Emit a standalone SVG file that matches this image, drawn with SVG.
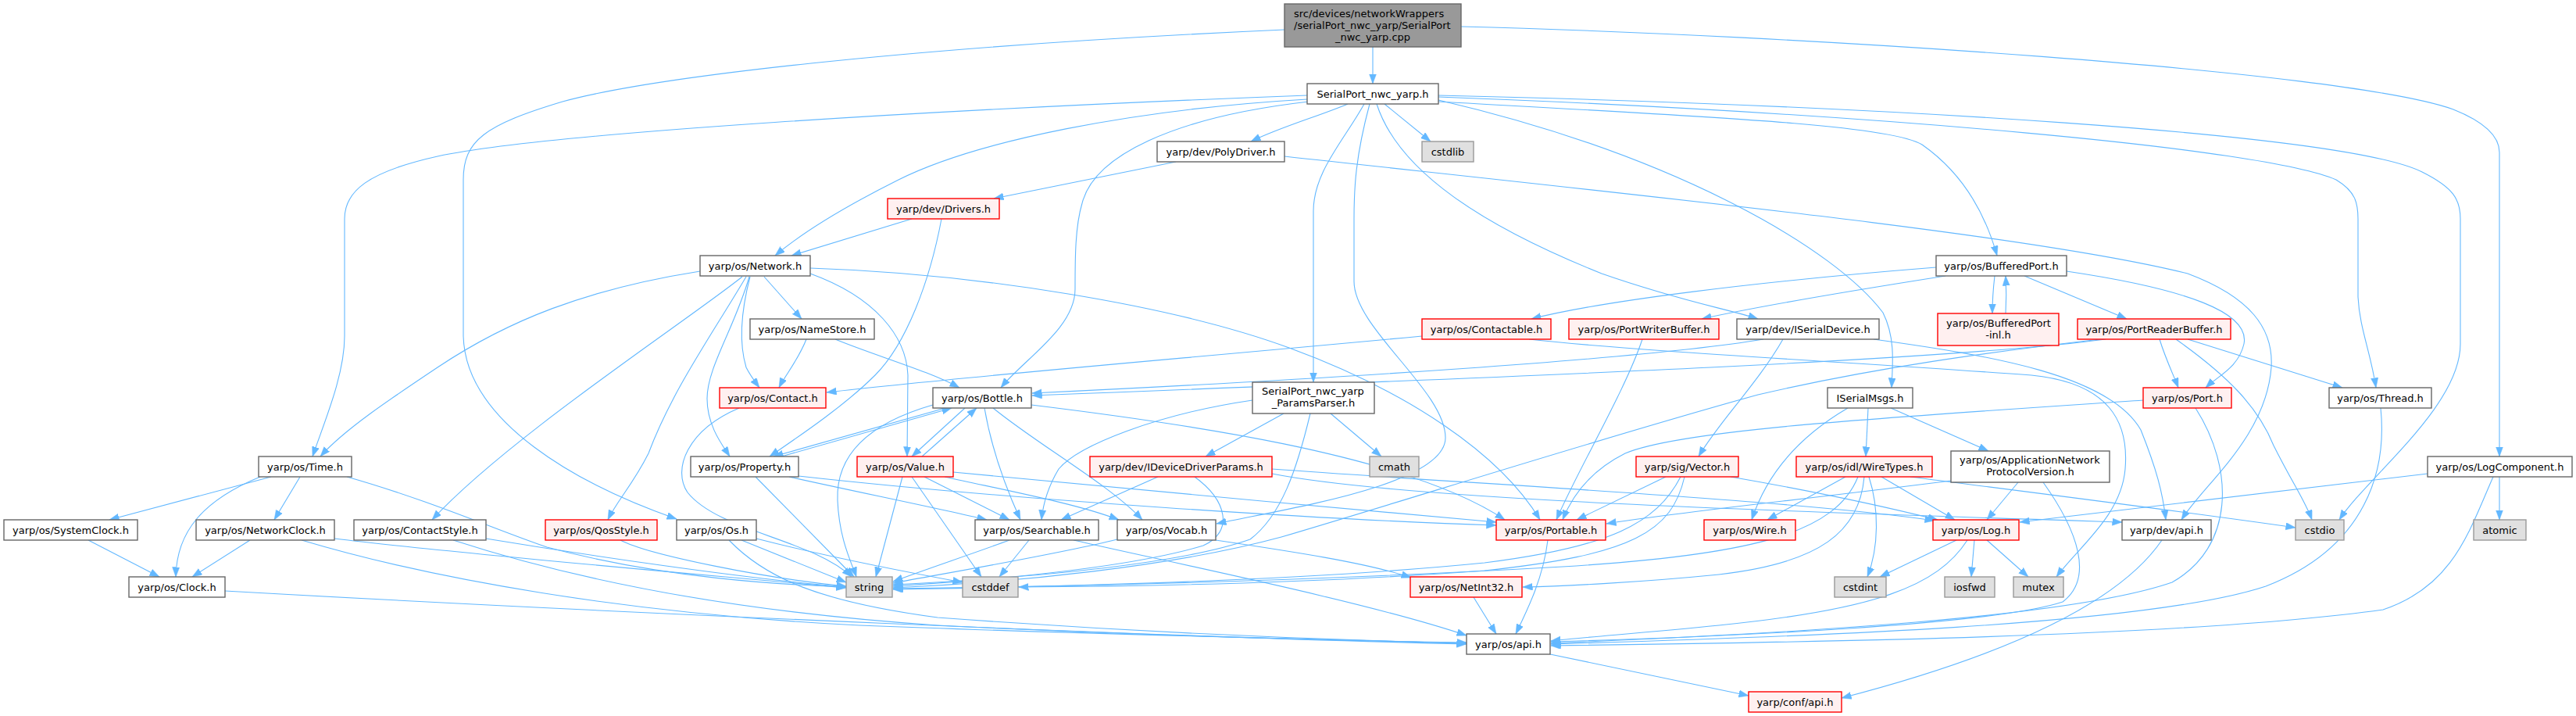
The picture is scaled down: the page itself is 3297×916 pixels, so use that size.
<svg xmlns="http://www.w3.org/2000/svg" width="3297" height="916" viewBox="0 0 3297 916">
<defs>
<marker id="arr" markerUnits="userSpaceOnUse" markerWidth="13" markerHeight="10" refX="12.5" refY="4.6" orient="auto">
<path d="M0,0 L12.5,4.6 L0,9.2 z" fill="#63B8FF" stroke="#63B8FF" stroke-width="0.5"/>
</marker>
<style>
.e{fill:none;stroke:#63B8FF;stroke-width:1.1;marker-end:url(#arr)}
rect{stroke-width:1.4}
.doc{fill:#FFFFFF;stroke:#666666}
.red{fill:#FFF0F0;stroke:#FF0000}
.ext{fill:#E0E0E0;stroke:#999999}
.root{fill:#999999;stroke:#666666}
text{font-family:"DejaVu Sans","Liberation Sans",sans-serif;font-size:13px;fill:#000000}
.m{text-anchor:middle}
.s{text-anchor:start}
</style>
</defs>
<rect width="3297" height="916" fill="#FFFFFF"/>
<g id="edges">
<path class="e" d="M1757,60 L1757,107"/>
<path class="e" d="M1644,38 C1150,60 830,100 720,130 C620,160 593,180 593,230 L593,430 C596,540 740,620 866,664"/>
<path class="e" d="M1870,34 C2300,45 3000,90 3140,140 C3190,160 3199,180 3199,195 L3199,584"/>
<path class="e" d="M1673,122 C1200,140 700,170 560,200 C470,220 441,245 441,280 L441,430 C441,480 415,540 400,584"/>
<path class="e" d="M1673,127 C1450,140 1250,180 1150,230 C1080,265 1030,295 992,327"/>
<path class="e" d="M1675,130 C1500,150 1400,200 1385,260 C1376,290 1376,330 1376,370 C1376,420 1310,460 1281,496"/>
<path class="e" d="M1725,133 C1690,148 1640,162 1601,181"/>
<path class="e" d="M1746,133 C1720,180 1681,220 1681,270 L1681,489"/>
<path class="e" d="M1753,133 C1735,200 1733,240 1733,280 L1733,360 C1733,420 1850,500 1850,560 C1850,620 1650,650 1557,670"/>
<path class="e" d="M1762,133 C1790,220 1900,290 2050,350 C2150,385 2210,395 2250,408"/>
<path class="e" d="M1772,133 L1831,181"/>
<path class="e" d="M1841,128 C2150,200 2350,320 2410,400 C2425,430 2423,460 2421,496"/>
<path class="e" d="M1841,122 C2400,135 3000,170 3100,220 C3140,240 3149,255 3149,280 L3149,440 C3149,520 3030,610 2994,665"/>
<path class="e" d="M1841,124 C2400,145 2900,190 2990,230 C3015,245 3018,260 3018,280 L3018,380 C3020,420 3034,450 3041,496"/>
<path class="e" d="M1841,130 C2200,150 2420,160 2460,185 C2510,220 2540,270 2556,327"/>
<path class="e" d="M1505,207 L1272,254"/>
<path class="e" d="M1644,200 C2100,250 2600,300 2800,350 C2880,380 2910,420 2907,470 C2900,560 2820,620 2792,665"/>
<path class="e" d="M1167,280 L1013,327"/>
<path class="e" d="M1205,280 C1190,360 1160,440 1120,480 C1080,520 1020,560 985,584"/>
<path class="e" d="M896,347 C750,370 650,410 560,470 C500,510 440,550 410,584"/>
<path class="e" d="M950,354 C880,410 650,560 553,665"/>
<path class="e" d="M955,354 C910,430 860,500 830,580 C810,620 790,640 778,665"/>
<path class="e" d="M959,354 C940,420 905,470 905,510 C905,545 925,570 934,584"/>
<path class="e" d="M960,354 C948,400 946,440 955,470 C960,480 966,488 972,496"/>
<path class="e" d="M978,354 L1026,408"/>
<path class="e" d="M1037,350 C1120,380 1160,430 1162,480 L1161,584"/>
<path class="e" d="M1037,343 C1250,350 1500,390 1650,445 C1800,500 1920,580 1971,665"/>
<path class="e" d="M2478,342 C2250,360 2050,385 1960,408"/>
<path class="e" d="M2490,353 C2350,375 2250,392 2178,408"/>
<path class="e" d="M2553,353 C2551,370 2550,385 2550,401"/>
<path class="e" d="M2567,401 C2568,385 2568,370 2567,353"/>
<path class="e" d="M2591,353 L2722,408"/>
<path class="e" d="M2645,347 C2800,370 2880,400 2872,440 C2865,470 2840,480 2823,496"/>
<path class="e" d="M1032,434 C1022,460 1005,480 997,496"/>
<path class="e" d="M1069,434 C1120,455 1190,475 1228,496"/>
<path class="e" d="M1820,430 C1500,460 1250,480 1058,502"/>
<path class="e" d="M1957,434 C2100,450 2400,465 2600,480 C2700,490 2725,540 2720,600 C2715,660 2660,700 2632,738"/>
<path class="e" d="M2102,434 C2080,500 2020,600 1992,665"/>
<path class="e" d="M2257,434 C2100,460 1700,485 1321,503"/>
<path class="e" d="M2282,434 C2250,490 2200,540 2174,584"/>
<path class="e" d="M2398,434 C2550,455 2700,480 2740,550 C2760,600 2768,630 2772,665"/>
<path class="e" d="M2764,434 C2772,460 2782,480 2788,496"/>
<path class="e" d="M2785,434 C2850,480 2890,520 2910,570 C2935,620 2950,640 2959,665"/>
<path class="e" d="M2800,434 L2998,496"/>
<path class="e" d="M2695,434 C2500,460 2000,480 1321,506"/>
<path class="e" d="M2688,434 C2550,450 2400,470 2250,505 C2050,560 1800,640 1640,687 C1500,725 1300,745 1143,752"/>
<path class="e" d="M946,522 C880,550 860,600 880,630 C920,680 1040,690 1090,738"/>
<path class="e" d="M1210,522 L990,584"/>
<path class="e" d="M1000,584 L1218,522"/>
<path class="e" d="M1235,522 L1167,584"/>
<path class="e" d="M1180,584 L1250,522"/>
<path class="e" d="M1260,522 C1270,580 1290,630 1306,665"/>
<path class="e" d="M1271,522 C1330,570 1420,620 1462,665"/>
<path class="e" d="M1320,518 C1500,540 1800,580 1926,665"/>
<path class="e" d="M1194,518 C1100,545 1070,590 1072,640 C1074,690 1090,720 1096,738"/>
<path class="e" d="M1603,512 C1480,530 1380,570 1355,600 C1340,625 1335,645 1333,665"/>
<path class="e" d="M1643,529 L1543,584"/>
<path class="e" d="M1703,529 L1768,584"/>
<path class="e" d="M1677,529 C1660,600 1640,660 1600,690 C1500,725 1300,740 1143,748"/>
<path class="e" d="M1482,610 L1358,665"/>
<path class="e" d="M1529,610 C1570,640 1580,680 1540,698 C1450,725 1300,740 1143,750"/>
<path class="e" d="M1628,600 C1900,620 2300,640 2476,666"/>
<path class="e" d="M1628,606 C1800,640 2300,655 2716,668"/>
<path class="e" d="M2132,610 L2018,665"/>
<path class="e" d="M2151,610 C2120,670 2060,700 1900,720 C1700,740 1400,750 1143,754"/>
<path class="e" d="M2156,610 C2140,680 2090,710 1900,730 C1700,745 1500,750 1304,751"/>
<path class="e" d="M2215,610 C2330,630 2420,650 2480,665"/>
<path class="e" d="M2362,610 L2262,665"/>
<path class="e" d="M2378,610 C2350,680 2250,710 2000,725 C1700,742 1400,750 1143,753"/>
<path class="e" d="M2386,610 C2380,680 2330,720 2200,735 C2100,745 2000,750 1949,751"/>
<path class="e" d="M2392,610 C2405,650 2405,700 2390,738"/>
<path class="e" d="M2408,610 L2502,665"/>
<path class="e" d="M2445,610 C2600,630 2800,655 2938,675"/>
<path class="e" d="M2365,522 C2300,560 2260,610 2242,665"/>
<path class="e" d="M2391,522 L2388,584"/>
<path class="e" d="M2420,522 L2545,577"/>
<path class="e" d="M2743,512 C2400,535 2150,550 2080,580 C2030,605 2010,640 2000,665"/>
<path class="e" d="M2810,522 C2860,600 2860,700 2780,745 C2650,790 2300,810 1985,823"/>
<path class="e" d="M3047,522 C3055,600 3030,700 2900,750 C2750,800 2300,815 1985,824"/>
<path class="e" d="M2583,617 L2543,665"/>
<path class="e" d="M2497,615 C2300,640 2150,655 2056,670"/>
<path class="e" d="M2615,617 C2660,680 2680,740 2640,770 C2550,800 2200,815 1985,821"/>
<path class="e" d="M3107,606 L2585,668"/>
<path class="e" d="M3199,610 L3199,665"/>
<path class="e" d="M3191,610 C3160,680 3140,750 3050,780 C2800,815 2300,822 1985,826"/>
<path class="e" d="M347,610 L140,665"/>
<path class="e" d="M333,610 C260,640 226,680 225,738"/>
<path class="e" d="M384,610 L351,665"/>
<path class="e" d="M444,610 C550,640 640,680 700,700 C850,740 1000,748 1083,751"/>
<path class="e" d="M113,691 L204,738"/>
<path class="e" d="M320,691 L246,738"/>
<path class="e" d="M428,689 C600,710 900,735 1083,752"/>
<path class="e" d="M386,691 C550,740 800,785 1100,800 C1400,812 1700,818 1877,823"/>
<path class="e" d="M622,689 C750,710 950,740 1083,751"/>
<path class="e" d="M580,691 C700,730 900,780 1200,800 C1500,815 1750,820 1877,822"/>
<path class="e" d="M794,691 C830,710 980,740 1083,750"/>
<path class="e" d="M288,756 C800,785 1500,815 1877,824"/>
<path class="e" d="M949,691 L1083,745"/>
<path class="e" d="M968,689 C1050,710 1150,730 1232,745"/>
<path class="e" d="M933,691 C980,740 1050,770 1200,790 C1500,812 1750,820 1877,823"/>
<path class="e" d="M967,610 L1093,738"/>
<path class="e" d="M1010,610 C1100,630 1200,650 1263,665"/>
<path class="e" d="M1022,609 C1300,640 1700,665 1915,672"/>
<path class="e" d="M1155,610 L1121,738"/>
<path class="e" d="M1167,610 L1256,738"/>
<path class="e" d="M1183,610 L1292,665"/>
<path class="e" d="M1209,610 C1300,630 1380,645 1432,665"/>
<path class="e" d="M1220,604 C1400,620 1700,650 1915,668"/>
<path class="e" d="M1292,691 C1240,710 1180,730 1143,744"/>
<path class="e" d="M1317,691 L1279,738"/>
<path class="e" d="M1374,691 C1500,720 1750,770 1877,813"/>
<path class="e" d="M1430,690 C1350,710 1200,735 1143,746"/>
<path class="e" d="M1556,691 C1650,705 1750,720 1806,739"/>
<path class="e" d="M1981,691 C1975,740 1955,780 1940,811"/>
<path class="e" d="M1886,764 L1915,811"/>
<path class="e" d="M2504,691 L2406,738"/>
<path class="e" d="M2527,691 L2523,738"/>
<path class="e" d="M2543,691 L2596,738"/>
<path class="e" d="M2518,691 C2480,750 2400,780 2200,800 C2100,810 2030,815 1985,820"/>
<path class="e" d="M2767,691 C2720,760 2600,830 2357,893"/>
<path class="e" d="M1984,837 L2238,890"/>
</g>
<g id="node-root"><rect class="root" x="1644" y="5" width="226" height="55"/><text class="s" x="1656" y="22">src/devices/networkWrappers</text><text class="s" x="1656" y="37">/serialPort_nwc_yarp/SerialPort</text><text class="m" x="1757" y="52">_nwc_yarp.cpp</text></g>
<g id="node-spnwc"><rect class="doc" x="1673" y="107" width="168" height="26"/><text class="m" x="1757" y="125">SerialPort_nwc_yarp.h</text></g>
<g id="node-cstdlib"><rect class="ext" x="1820" y="181" width="66" height="26"/><text class="m" x="1853" y="199">cstdlib</text></g>
<g id="node-polydriver"><rect class="doc" x="1481" y="181" width="163" height="26"/><text class="m" x="1562.5" y="199">yarp/dev/PolyDriver.h</text></g>
<g id="node-drivers"><rect class="red" x="1136" y="254" width="143" height="26"/><text class="m" x="1207.5" y="272">yarp/dev/Drivers.h</text></g>
<g id="node-network"><rect class="doc" x="896" y="327" width="141" height="26"/><text class="m" x="966.5" y="345">yarp/os/Network.h</text></g>
<g id="node-bufferedport"><rect class="doc" x="2478" y="327" width="167" height="26"/><text class="m" x="2561.5" y="345">yarp/os/BufferedPort.h</text></g>
<g id="node-namestore"><rect class="doc" x="960" y="408" width="159" height="26"/><text class="m" x="1039.5" y="426">yarp/os/NameStore.h</text></g>
<g id="node-contactable"><rect class="red" x="1820" y="408" width="165" height="26"/><text class="m" x="1902.5" y="426">yarp/os/Contactable.h</text></g>
<g id="node-portwriterbuffer"><rect class="red" x="2008" y="408" width="192" height="26"/><text class="m" x="2104" y="426">yarp/os/PortWriterBuffer.h</text></g>
<g id="node-iserialdevice"><rect class="doc" x="2223" y="408" width="182" height="26"/><text class="m" x="2314" y="426">yarp/dev/ISerialDevice.h</text></g>
<g id="node-portreaderbuffer"><rect class="red" x="2659" y="408" width="196" height="26"/><text class="m" x="2757" y="426">yarp/os/PortReaderBuffer.h</text></g>
<g id="node-bpinl"><rect class="red" x="2480" y="401" width="155" height="41"/><text class="s" x="2491" y="418">yarp/os/BufferedPort</text><text class="m" x="2557.5" y="433">-inl.h</text></g>
<g id="node-contact"><rect class="red" x="921" y="496" width="136" height="26"/><text class="m" x="989" y="514">yarp/os/Contact.h</text></g>
<g id="node-bottle"><rect class="doc" x="1194" y="496" width="126" height="26"/><text class="m" x="1257" y="514">yarp/os/Bottle.h</text></g>
<g id="node-paramsparser"><rect class="doc" x="1603" y="489" width="156" height="40"/><text class="s" x="1615" y="505">SerialPort_nwc_yarp</text><text class="m" x="1681" y="520">_ParamsParser.h</text></g>
<g id="node-iserialmsgs"><rect class="doc" x="2339" y="496" width="109" height="26"/><text class="m" x="2393.5" y="514">ISerialMsgs.h</text></g>
<g id="node-port"><rect class="red" x="2743" y="496" width="113" height="26"/><text class="m" x="2799.5" y="514">yarp/os/Port.h</text></g>
<g id="node-thread"><rect class="doc" x="2981" y="496" width="131" height="26"/><text class="m" x="3046.5" y="514">yarp/os/Thread.h</text></g>
<g id="node-time"><rect class="doc" x="331" y="584" width="119" height="26"/><text class="m" x="390.5" y="602">yarp/os/Time.h</text></g>
<g id="node-property"><rect class="doc" x="884" y="584" width="138" height="26"/><text class="m" x="953" y="602">yarp/os/Property.h</text></g>
<g id="node-value"><rect class="red" x="1097" y="584" width="123" height="26"/><text class="m" x="1158.5" y="602">yarp/os/Value.h</text></g>
<g id="node-iddp"><rect class="red" x="1395" y="584" width="233" height="26"/><text class="m" x="1511.5" y="602">yarp/dev/IDeviceDriverParams.h</text></g>
<g id="node-cmath"><rect class="ext" x="1753" y="584" width="63" height="26"/><text class="m" x="1784.5" y="602">cmath</text></g>
<g id="node-vector"><rect class="red" x="2094" y="584" width="131" height="26"/><text class="m" x="2159.5" y="602">yarp/sig/Vector.h</text></g>
<g id="node-wiretypes"><rect class="red" x="2299" y="584" width="174" height="26"/><text class="m" x="2386" y="602">yarp/os/idl/WireTypes.h</text></g>
<g id="node-appnet"><rect class="doc" x="2497" y="577" width="203" height="40"/><text class="s" x="2508" y="593">yarp/os/ApplicationNetwork</text><text class="m" x="2598.5" y="608">ProtocolVersion.h</text></g>
<g id="node-logcomponent"><rect class="doc" x="3107" y="584" width="185" height="26"/><text class="m" x="3199.5" y="602">yarp/os/LogComponent.h</text></g>
<g id="node-systemclock"><rect class="doc" x="5" y="665" width="171" height="26"/><text class="m" x="90.5" y="683">yarp/os/SystemClock.h</text></g>
<g id="node-networkclock"><rect class="doc" x="251" y="665" width="177" height="26"/><text class="m" x="339.5" y="683">yarp/os/NetworkClock.h</text></g>
<g id="node-contactstyle"><rect class="doc" x="453" y="665" width="169" height="26"/><text class="m" x="537.5" y="683">yarp/os/ContactStyle.h</text></g>
<g id="node-qosstyle"><rect class="red" x="698" y="665" width="143" height="26"/><text class="m" x="769.5" y="683">yarp/os/QosStyle.h</text></g>
<g id="node-os"><rect class="doc" x="866" y="665" width="102" height="26"/><text class="m" x="917" y="683">yarp/os/Os.h</text></g>
<g id="node-searchable"><rect class="doc" x="1248" y="665" width="158" height="26"/><text class="m" x="1327" y="683">yarp/os/Searchable.h</text></g>
<g id="node-vocab"><rect class="doc" x="1430" y="665" width="126" height="26"/><text class="m" x="1493" y="683">yarp/os/Vocab.h</text></g>
<g id="node-portable"><rect class="red" x="1915" y="665" width="140" height="26"/><text class="m" x="1985" y="683">yarp/os/Portable.h</text></g>
<g id="node-wire"><rect class="red" x="2181" y="665" width="117" height="26"/><text class="m" x="2239.5" y="683">yarp/os/Wire.h</text></g>
<g id="node-log"><rect class="red" x="2474" y="665" width="110" height="26"/><text class="m" x="2529" y="683">yarp/os/Log.h</text></g>
<g id="node-devapi"><rect class="doc" x="2716" y="665" width="114" height="26"/><text class="m" x="2773" y="683">yarp/dev/api.h</text></g>
<g id="node-cstdio"><rect class="ext" x="2938" y="665" width="62" height="26"/><text class="m" x="2969" y="683">cstdio</text></g>
<g id="node-atomic"><rect class="ext" x="3166" y="665" width="67" height="26"/><text class="m" x="3199.5" y="683">atomic</text></g>
<g id="node-clock"><rect class="doc" x="165" y="738" width="123" height="26"/><text class="m" x="226.5" y="756">yarp/os/Clock.h</text></g>
<g id="node-string"><rect class="ext" x="1083" y="738" width="59" height="26"/><text class="m" x="1112.5" y="756">string</text></g>
<g id="node-cstddef"><rect class="ext" x="1232" y="738" width="71" height="26"/><text class="m" x="1267.5" y="756">cstddef</text></g>
<g id="node-netint32"><rect class="red" x="1805" y="738" width="143" height="26"/><text class="m" x="1876.5" y="756">yarp/os/NetInt32.h</text></g>
<g id="node-cstdint"><rect class="ext" x="2348" y="738" width="66" height="26"/><text class="m" x="2381" y="756">cstdint</text></g>
<g id="node-iosfwd"><rect class="ext" x="2489" y="738" width="64" height="26"/><text class="m" x="2521" y="756">iosfwd</text></g>
<g id="node-mutex"><rect class="ext" x="2577" y="738" width="64" height="26"/><text class="m" x="2609" y="756">mutex</text></g>
<g id="node-osapi"><rect class="doc" x="1877" y="811" width="107" height="26"/><text class="m" x="1930.5" y="829">yarp/os/api.h</text></g>
<g id="node-confapi"><rect class="red" x="2238" y="885" width="119" height="26"/><text class="m" x="2297.5" y="903">yarp/conf/api.h</text></g>
</svg>
